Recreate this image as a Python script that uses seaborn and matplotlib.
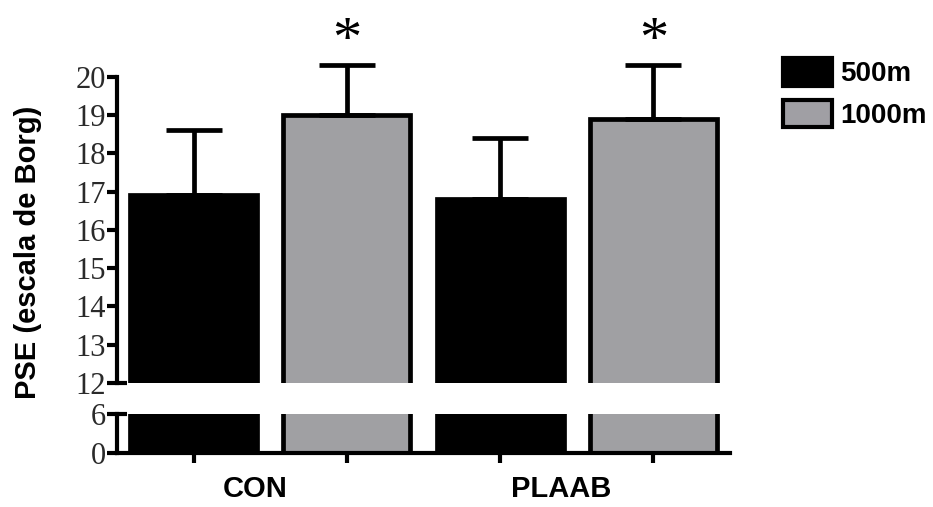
import pandas as pd
import numpy as np
import matplotlib
matplotlib.use('Agg')
import matplotlib.pyplot as plt
import matplotlib.patches as mpatches
import seaborn as sns

# dados (media e desvio padrao, PSE escala de Borg)
grupos = ['CON', 'PLAAB']
distancias = ['500m', '1000m']
media_500 = [16.9, 16.8]
media_1000 = [19.0, 18.9]
dp_500 = [1.7, 1.6]
dp_1000 = [1.3, 1.4]
cores = ['#000000', '#a09fa4']

df = pd.DataFrame({
    'grupo': grupos * 2,
    'distancia': [distancias[0]] * 2 + [distancias[1]] * 2,
    'pse': media_500 + media_1000,
})
dps = [dp_500, dp_1000]

sns.set_style('ticks')
plt.rcParams['font.family'] = ['Liberation Sans', 'DejaVu Sans']
plt.rcParams['text.color'] = 'black'
plt.rcParams['xtick.color'] = 'black'
plt.rcParams['ytick.color'] = 'black'
serif = ['Liberation Serif', 'DejaVu Serif']

fig = plt.figure(figsize=(9.33, 5.07), dpi=100)
ax_top = fig.add_axes([117 / 933, 1 - 383 / 507, 613 / 933, 383 / 507])
ax_bot = fig.add_axes([117 / 933, 1 - 453 / 507, 613 / 933, 39 / 507])

lw = 3.4
for ax in (ax_top, ax_bot):
    sns.barplot(data=df, x='grupo', y='pse', hue='distancia', palette=cores,
                width=1.0, gap=0.17, edgecolor='black', linewidth=lw,
                errorbar=None, legend=False, ax=ax)
    ax.set_xlim(-0.5, 1.5)
    ax.set_xlabel('')
    ax.set_ylabel('')
    ax.patch.set_alpha(0)
    for s in ('top', 'right'):
        ax.spines[s].set_visible(False)
    for s in ('left', 'bottom'):
        ax.spines[s].set_linewidth(3)
        ax.spines[s].set_color('black')
    ax.tick_params(axis='y', direction='out', length=7, width=3, pad=1,
                   labelsize=22, labelcolor='#2a2a2a')

# parte de cima: 12 a 20
ax_top.set_ylim(12, 22)
ax_top.spines['left'].set_bounds(12, 20)
ax_top.spines['bottom'].set_visible(False)
ax_top.set_yticks(range(12, 21))
ax_top.set_yticklabels([str(v) for v in range(12, 21)], family=serif)
ax_top.tick_params(axis='x', bottom=False, labelbottom=False)

# barras de erro e asteriscos
centros = []
for i, (cont, dp) in enumerate(zip(ax_top.containers, dps)):
    for barra, s in zip(cont, dp):
        x = barra.get_x() + barra.get_width() / 2
        y = barra.get_height()
        centros.append(x)
        ax_top.errorbar(x, y, yerr=[[0], [s]], fmt='none', ecolor='black',
                        elinewidth=lw, capsize=20, capthick=lw, clip_on=False,
                        zorder=1)
        if i == 1:
            ax_top.text(x, y + s + 0.6, '*', ha='center', va='center',
                        fontsize=42, family=serif, color='black')

# parte de baixo: 0 a 6
ax_bot.set_ylim(0, 6)
ax_bot.spines['left'].set_bounds(0, 6)
ax_bot.set_yticks([0, 6])
ax_bot.set_yticklabels(['0', '6'], family=serif)
ax_bot.set_xticks(sorted(centros))
ax_bot.set_xticklabels([])
ax_bot.set_xticks([g - 0.05 for g in range(len(grupos))], labels=grupos, minor=True)
ax_bot.tick_params(axis='x', which='major', direction='out', length=7, width=3)
ax_bot.tick_params(axis='x', which='minor', length=0, pad=16, labelsize=21)
for lab in ax_bot.get_xticklabels(minor=True):
    lab.set_fontweight('bold')

# marcas de quebra do eixo
dentro = 10 / 613
ax_top.plot([0, dentro], [0, 0], color='black', lw=3, transform=ax_top.transAxes,
            clip_on=False, solid_capstyle='butt')
ax_bot.plot([0, dentro], [1, 1], color='black', lw=3, transform=ax_bot.transAxes,
            clip_on=False, solid_capstyle='butt')

fig.text(28 / 933, 1 - 252 / 507, 'PSE (escala de Borg)', rotation=90,
         ha='center', va='center', fontsize=21, fontweight='bold', color='black')

handles = [mpatches.Patch(facecolor=c, edgecolor='black', linewidth=3, label=d)
           for c, d in zip(cores, distancias)]
fig.legend(handles=handles, loc='upper left', bbox_to_anchor=(783 / 933, 1 - 58 / 507),
           frameon=False, prop={'weight': 'bold', 'size': 20},
           handlelength=1.75, handleheight=1.15, handletextpad=0.3,
           labelspacing=0.45, borderpad=0, borderaxespad=0)

fig.savefig('out.png', dpi=100)
